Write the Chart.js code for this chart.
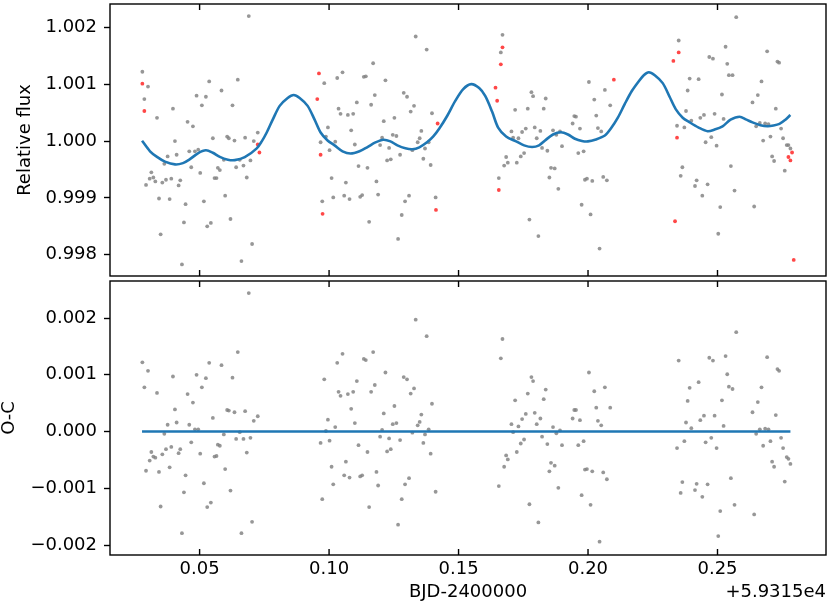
<!DOCTYPE html>
<html><head><meta charset="utf-8">
<script src="https://cdn.jsdelivr.net/npm/chart.js@4.4.1/dist/chart.umd.min.js"></script>
<style>
html,body{margin:0;padding:0;background:#fff;}
#wrap{position:relative;width:830px;height:606px;overflow:hidden;}
#c1{position:absolute;left:0;top:0;}
#c2{position:absolute;left:0;top:277px;}
</style></head><body>
<div id="wrap">
<canvas id="c1" width="830" height="280"></canvas>
<canvas id="c2" width="830" height="329"></canvas>
</div>
<script>
// ---- data ----
const time = [
0.06899,0.02790,0.03008,0.02867,0.05371,0.06475,0.05846,0.04883,0.05243,0.05088,0.06270,0.03971,0.03355,0.04536,0.04742,0.07246,0.06064,0.06129,0.05512,0.06758,0.06347,0.04048,0.07092,0.04601,0.04819,0.04947,0.03766,0.04113,0.03638,0.05936,0.06552,0.06963,0.04678,0.05705,0.05782,0.06411,0.06694,0.03137,0.05024,0.03214,0.03073,0.03291,0.03702,0.03907,0.04254,0.03561,0.05576,0.05653,0.06822,0.02931,0.04190,0.03432,0.03843,0.05987,0.04459,0.05166,0.04395,0.06193,0.05435,0.05294,0.03496,0.07027,0.04318,0.06616,
0.13345,0.13769,0.11702,0.10520,0.10315,0.09814,0.11342,0.11419,0.12177,0.12883,0.13011,0.11766,0.11072,0.11624,0.13281,0.10366,0.13152,0.10443,0.10726,0.10931,0.13974,0.12112,0.12523,0.09955,0.10854,0.13563,0.12459,0.12600,0.12048,0.13499,0.09673,0.10238,0.13422,0.13846,0.11971,0.10995,0.12318,0.10019,0.13705,0.12742,0.13217,0.13640,0.12241,0.12382,0.11137,0.11483,0.13923,0.10097,0.11830,0.10649,0.09737,0.10161,0.10584,0.10790,0.11201,0.11278,0.11894,0.13088,0.12934,0.14115,0.12806,0.11547,0.12665,0.09878,
0.16697,0.16633,0.20035,0.20651,0.17814,0.17878,0.18366,0.20241,0.20857,0.17185,0.17673,0.18289,0.20318,0.19470,0.19534,0.19406,0.17596,0.17942,0.19688,0.20382,0.17043,0.17454,0.18160,0.18648,0.18918,0.20510,0.18777,0.17313,0.18019,0.18225,0.18430,0.18995,0.19624,0.19830,0.17531,0.17403,0.16838,0.16902,0.17249,0.16761,0.18571,0.18713,0.16555,0.18507,0.19881,0.19958,0.20164,0.20587,0.20728,0.18854,0.19753,0.20099,0.17737,0.18083,0.20446,0.17108,
0.25723,0.23501,0.24683,0.24824,0.25312,0.26917,0.27315,0.27379,0.25376,0.25440,0.25581,0.23925,0.24272,0.26699,0.23848,0.25171,0.26557,0.26352,0.27251,0.24477,0.24888,0.24336,0.23784,0.25235,0.23989,0.26634,0.26840,0.26968,0.26493,0.27456,0.24760,0.23720,0.23437,0.24541,0.24965,0.26763,0.27045,0.27533,0.27109,0.27186,0.27674,0.27739,0.27816,0.27597,0.25517,0.23643,0.23578,0.24195,0.24131,0.24618,0.25658,0.24413,0.25106,0.26416,0.25029
];
const flux = [
1.00220,1.00122,1.00096,1.00074,1.00105,1.00108,1.00089,1.00080,1.00078,1.00063,1.00063,1.00057,1.00041,1.00034,1.00026,1.00015,1.00008,1.00005,1.00005,1.00006,1.00001,1.00000,1.00000,0.99982,0.99982,0.99985,0.99973,0.99976,0.99960,0.99967,0.99967,0.99966,0.99954,0.99953,0.99949,0.99954,0.99957,0.99945,0.99944,0.99936,0.99934,0.99929,0.99932,0.99934,0.99931,0.99927,0.99935,0.99935,0.99936,0.99923,0.99922,0.99899,0.99898,0.99904,0.99889,0.99894,0.99857,0.99863,0.99856,0.99850,0.99836,0.99819,0.99783,0.99789,
1.00184,1.00161,1.00137,1.00121,1.00111,1.00102,1.00113,1.00114,1.00107,1.00085,1.00078,1.00081,1.00068,1.00064,1.00062,1.00057,1.00052,1.00048,1.00046,1.00048,1.00049,1.00035,1.00041,1.00024,1.00019,1.00018,1.00011,1.00009,1.00006,1.00005,0.99998,0.99999,0.99998,0.99998,0.99993,0.99994,0.99988,0.99984,0.99987,0.99976,0.99984,0.99969,0.99966,0.99968,0.99956,0.99953,0.99958,0.99935,0.99929,0.99927,0.99894,0.99901,0.99904,0.99898,0.99902,0.99905,0.99906,0.99904,0.99894,0.99901,0.99870,0.99858,0.99828,1.00008,
1.00187,1.00156,1.00104,1.00090,1.00086,1.00079,1.00075,1.00073,1.00063,1.00055,1.00057,1.00057,1.00045,1.00044,1.00043,1.00031,1.00022,1.00024,1.00022,1.00023,1.00017,1.00016,1.00018,1.00019,1.00017,1.00017,1.00011,1.00005,1.00005,0.99988,0.99983,0.99991,0.99979,0.99982,0.99979,0.99973,0.99972,0.99962,0.99962,0.99957,0.99953,0.99952,0.99935,0.99936,0.99932,0.99934,0.99930,0.99937,0.99931,0.99916,0.99888,0.99871,0.99862,0.99833,0.99811,1.00006,
1.00218,1.00177,1.00148,1.00145,1.00166,1.00158,1.00140,1.00138,1.00136,1.00116,1.00116,1.00110,1.00109,1.00105,1.00089,1.00082,1.00081,1.00068,1.00057,1.00046,1.00048,1.00041,1.00053,1.00039,1.00036,1.00032,1.00031,1.00030,1.00026,1.00022,1.00007,1.00024,1.00027,0.99998,0.99992,1.00001,1.00008,1.00005,0.99973,0.99965,0.99993,0.99993,0.99987,0.99948,0.99956,0.99954,0.99939,0.99931,0.99921,0.99924,0.99913,0.99904,0.99884,0.99885,0.99837
];
const residual = [
0.00244,0.00122,0.00107,0.00078,0.00121,0.00140,0.00117,0.00100,0.00094,0.00078,0.00095,0.00097,0.00068,0.00066,0.00051,0.00027,0.00038,0.00037,0.00024,0.00036,0.00034,0.00039,0.00019,0.00012,0.00004,0.00004,0.00012,0.00016,-0.00004,-0.00005,-0.00001,-0.00011,-0.00019,-0.00023,-0.00025,-0.00013,-0.00013,-0.00036,-0.00039,-0.00044,-0.00051,-0.00046,-0.00031,-0.00027,-0.00031,-0.00040,-0.00044,-0.00043,-0.00037,-0.00069,-0.00038,-0.00071,-0.00063,-0.00066,-0.00077,-0.00091,-0.00107,-0.00104,-0.00125,-0.00133,-0.00132,-0.00159,-0.00179,-0.00179,
0.00197,0.00168,0.00140,0.00137,0.00121,0.00092,0.00128,0.00126,0.00104,0.00096,0.00092,0.00082,0.00089,0.00070,0.00076,0.00070,0.00067,0.00063,0.00066,0.00070,0.00049,0.00032,0.00045,0.00021,0.00040,0.00030,0.00013,0.00015,0.00003,0.00017,-0.00020,0.00008,0.00011,0.00004,-0.00009,0.00015,-0.00012,-0.00016,-0.00005,-0.00015,-0.00002,-0.00020,-0.00035,-0.00031,-0.00024,-0.00036,-0.00039,-0.00062,-0.00071,-0.00053,-0.00119,-0.00093,-0.00077,-0.00081,-0.00079,-0.00077,-0.00095,-0.00082,-0.00093,-0.00106,-0.00119,-0.00133,-0.00164,0.00001,
0.00163,0.00129,0.00104,0.00078,0.00096,0.00089,0.00074,0.00071,0.00042,0.00055,0.00067,0.00057,0.00042,0.00038,0.00038,0.00023,0.00031,0.00033,0.00020,0.00019,0.00013,0.00022,0.00023,0.00008,0.00002,0.00011,-0.00003,0.00009,0.00013,-0.00009,-0.00022,-0.00024,-0.00024,-0.00017,-0.00014,-0.00021,-0.00042,-0.00049,-0.00036,-0.00062,-0.00055,-0.00060,-0.00096,-0.00070,-0.00067,-0.00066,-0.00070,-0.00072,-0.00084,-0.00099,-0.00112,-0.00129,-0.00128,-0.00160,-0.00194,-0.00001,
0.00175,0.00125,0.00130,0.00125,0.00133,0.00131,0.00110,0.00107,0.00101,0.00079,0.00075,0.00077,0.00087,0.00078,0.00054,0.00055,0.00052,0.00034,0.00029,0.00028,0.00028,0.00020,0.00016,0.00010,0.00006,0.00004,0.00005,0.00004,-0.00004,-0.00011,-0.00011,-0.00017,-0.00029,-0.00019,-0.00029,-0.00025,-0.00017,-0.00029,-0.00053,-0.00062,-0.00045,-0.00048,-0.00057,-0.00088,-0.00082,-0.00089,-0.00108,-0.00092,-0.00103,-0.00093,-0.00129,-0.00115,-0.00140,-0.00146,-0.00184
];
const outlierTime = [0.02790,0.02867,0.07246,0.07310,0.09609,0.09544,0.14192,0.09673,0.09750,0.14128,0.16697,0.16633,0.16427,0.16491,0.20998,0.16555,0.23501,0.23296,0.23437,0.27880,0.27739,0.27816,0.23360,0.27944];
const outlierFlux = [1.00101,1.00053,0.99994,0.99980,1.00119,1.00074,1.00031,0.99976,0.99872,0.99879,1.00165,1.00135,1.00094,1.00071,1.00108,0.99914,1.00156,1.00141,1.00006,0.99980,0.99972,0.99966,0.99859,0.99791];
const modelTime = [0.02777,0.03086,0.03355,0.03663,0.04049,0.04357,0.04626,0.04935,0.05243,0.05512,0.05782,0.06090,0.06360,0.06745,0.07207,0.07400,0.07592,0.07824,0.08093,0.08401,0.08633,0.08864,0.09172,0.09441,0.09673,0.09942,0.10212,0.10520,0.10828,0.11175,0.11483,0.11791,0.12099,0.12369,0.12639,0.12947,0.13217,0.13486,0.13794,0.14025,0.14257,0.14565,0.14873,0.15181,0.15489,0.15797,0.16029,0.16298,0.16529,0.16837,0.17223,0.17531,0.17839,0.18109,0.18340,0.18648,0.18956,0.19226,0.19495,0.19765,0.19996,0.20304,0.20651,0.20882,0.21152,0.21421,0.21691,0.21961,0.22153,0.22346,0.22577,0.22885,0.23155,0.23386,0.23656,0.23925,0.24272,0.24619,0.24888,0.25196,0.25505,0.25851,0.26121,0.26352,0.26660,0.26930,0.27161,0.27392,0.27623,0.27816];
const modelFlux = [1.000007,0.999821,0.999722,0.999639,0.999590,0.999613,0.999682,0.999786,0.999838,0.999795,0.999722,0.999673,0.999665,0.999717,0.999873,0.999995,1.000151,1.000377,1.000620,1.000759,1.000811,1.000759,1.000620,1.000377,1.000151,1.000012,0.999925,0.999821,0.999781,0.999821,0.999896,0.999977,1.000024,0.999995,0.999925,0.999873,0.999856,0.999891,0.999983,1.000082,1.000221,1.000446,1.000707,1.000915,1.001002,1.000933,1.000794,1.000516,1.000238,1.000082,0.999995,0.999925,0.999896,0.999925,1.000012,1.000116,1.000156,1.000116,1.000042,1.000003,0.999995,1.000030,1.000099,1.000221,1.000412,1.000655,1.000881,1.001054,1.001159,1.001211,1.001159,1.001020,1.000776,1.000563,1.000412,1.000330,1.000238,1.000174,1.000203,1.000261,1.000377,1.000429,1.000377,1.000330,1.000281,1.000261,1.000273,1.000302,1.000377,1.000459];
const timeTicks = [0.05,0.10,0.15,0.20,0.25];
const fluxTicks = [0.998,0.999,1.000,1.001,1.002];
const ocTicks = [-0.002,-0.001,0.000,0.001,0.002];
const xLabel = 'BJD-2400000';
const xOffsetLabel = '+5.9315e4';
const fluxLabel = 'Relative flux';
const ocLabel = 'O-C';

// ---- styling ----
const FONT = {family:"'DejaVu Sans', sans-serif", size:18, lineHeight:1};
const XMIN = 0.0154, XMAX = 0.2919;
const GRAY = 'rgba(128,128,128,0.82)';
const RED = 'rgba(255,0,0,0.72)';
const BLUE = '#1f77b4';

const frame = {
  id:'frame',
  afterDraw(chart){
    const {ctx, chartArea:a, scales:{x}} = chart;
    ctx.save();
    ctx.strokeStyle = '#000'; ctx.lineWidth = 1.4;
    ctx.beginPath();
    timeTicks.forEach(v=>{
      const p = x.getPixelForValue(v);
      ctx.moveTo(p,a.top); ctx.lineTo(p,a.top+6);
      ctx.moveTo(p,a.bottom); ctx.lineTo(p,a.bottom-6);
    });
    ctx.stroke();
    ctx.strokeRect(a.left,a.top,a.right-a.left,a.bottom-a.top);
    if (chart.options.plugins.frame && chart.options.plugins.frame.offset) {
      ctx.fillStyle = '#000';
      ctx.font = "18px 'DejaVu Sans', sans-serif";
      ctx.textAlign = 'right'; ctx.textBaseline = 'middle';
      ctx.fillText(xOffsetLabel, a.right, x.bottom - 9 - 5);
    }
    ctx.restore();
  }
};

function yScale(min,max,ticks,label,titlePad,fmt){
  return {
    type:'linear', min, max,
    afterBuildTicks: s => { s.ticks = ticks.map(v=>({value:v})); },
    afterFit: s => { s.width = 110; s.paddingTop = 0; s.paddingBottom = 0; },
    ticks:{font:FONT, color:'#000', padding:7, callback:fmt},
    grid:{drawOnChartArea:false, drawTicks:true, tickLength:6, tickColor:'#000', tickWidth:1.4},
    border:{display:false},
    title:{display:true, text:label, font:FONT, color:'#000', padding:{top:titlePad,bottom:0}}
  };
}

const fmtFlux = v => v.toFixed(3);
const fmtOC = v => (v < -1e-9 ? '\u2212' : '') + Math.abs(v).toFixed(3);

const pts = (xs, ys) => xs.map((t,i)=>({x:t, y:ys[i]}));

new Chart(document.getElementById('c1'), {
  type:'scatter',
  data:{datasets:[
    {data:pts(modelTime, modelFlux), showLine:true, borderColor:BLUE, borderWidth:2.6, pointRadius:0, tension:0.3, fill:false},
    {data:pts(outlierTime, outlierFlux), pointRadius:1.9, pointBackgroundColor:RED, pointBorderWidth:0},
    {data:pts(time, flux), pointRadius:1.9, pointBackgroundColor:GRAY, pointBorderWidth:0}
  ]},
  options:{
    responsive:false, animation:false, devicePixelRatio:1,
    layout:{padding:{left:0, right:2.5, top:2, bottom:2.5}},
    plugins:{legend:{display:false}, tooltip:{enabled:false}},
    scales:{
      x:{type:'linear', min:XMIN, max:XMAX, display:false},
      y:yScale(0.997627, 1.002412, fluxTicks, fluxLabel, 16, fmtFlux)
    }
  },
  plugins:[frame]
});

new Chart(document.getElementById('c2'), {
  type:'scatter',
  data:{datasets:[
    {data:modelTime.map(t=>({x:t, y:0})), showLine:true, borderColor:BLUE, borderWidth:2.6, pointRadius:0, fill:false},
    {data:pts(time, residual), pointRadius:1.9, pointBackgroundColor:GRAY, pointBorderWidth:0}
  ]},
  options:{
    responsive:false, animation:false, devicePixelRatio:1,
    layout:{padding:{left:0, right:2.5, top:0.5, bottom:0}},
    plugins:{legend:{display:false}, tooltip:{enabled:false}, frame:{offset:true}},
    scales:{
      x:{
        type:'linear', min:XMIN, max:XMAX,
        afterBuildTicks: s => { s.ticks = timeTicks.map(v=>({value:v})); },
        afterFit: s => { s.height = 51; s.paddingLeft = 0; s.paddingRight = 0; },
        ticks:{font:FONT, color:'#000', padding:5, callback:v=>v.toFixed(2)},
        grid:{drawOnChartArea:false, drawTicks:false},
        border:{display:false},
        title:{display:true, text:xLabel, font:FONT, color:'#000', padding:{top:0,bottom:5}}
      },
      y:yScale(-0.002174, 0.002652, ocTicks, ocLabel, 0, fmtOC)
    }
  },
  plugins:[frame]
});
</script>
</body></html>
